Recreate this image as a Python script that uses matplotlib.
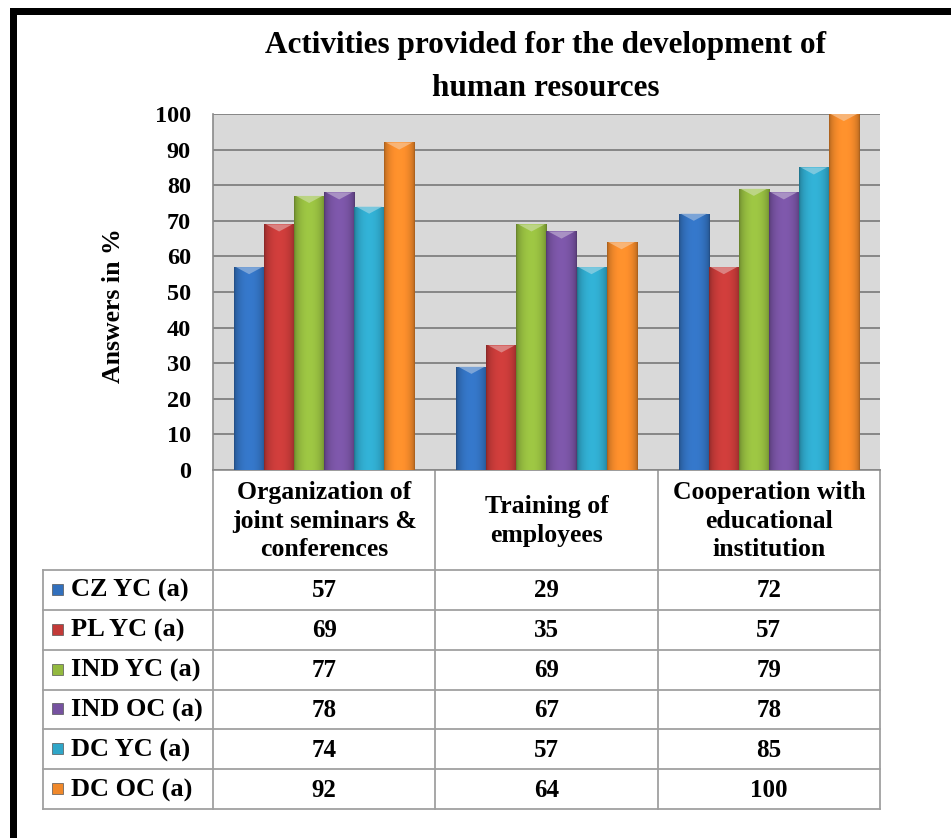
import numpy as np
import matplotlib
matplotlib.use("Agg")
import matplotlib.pyplot as plt
from matplotlib.patches import Polygon, Rectangle
from matplotlib.colors import to_rgb

plt.rcParams['font.family'] = ['Liberation Serif', 'DejaVu Serif']
plt.rcParams['font.weight'] = 'bold'

# chart data
categories = ['Organization of\njoint seminars &\nconferences',
              'Training of\nemployees',
              'Cooperation with\neducational\ninstitution']
series_names = ['CZ YC (a)', 'PL YC (a)', 'IND YC (a)', 'IND OC (a)', 'DC YC (a)', 'DC OC (a)']
cz_yc = [57, 29, 72]
pl_yc = [69, 35, 57]
ind_yc = [77, 69, 79]
ind_oc = [78, 67, 78]
dc_yc = [74, 57, 85]
dc_oc = [92, 64, 100]
series_values = [cz_yc, pl_yc, ind_yc, ind_oc, dc_yc, dc_oc]
colors = ['#3270bd', '#c33a38', '#93b93f', '#7652a0', '#2fa6c8', '#f0882a']
yticks = list(range(0, 101, 10))

W, H = 951, 838
fig = plt.figure(figsize=(W / 100, H / 100), dpi=100)

# pixel-space overlay for frame, title, axis label and data table
ov = fig.add_axes([0, 0, 1, 1], zorder=0)
ov.set_xlim(0, W)
ov.set_ylim(H, 0)
ov.axis('off')

# plot area in pixels
px0, px1, py0, py1 = 213, 880, 114, 470
ax = fig.add_axes([px0 / W, 1 - py1 / H, (px1 - px0) / W, (py1 - py0) / H], zorder=1)
ax.set_facecolor('#d9d9d9')
ax.set_yticks(yticks)
ax.set_yticklabels([str(t) for t in yticks], fontsize=17.5, fontweight='bold')
ax.set_xticks([])
ax.tick_params(axis='y', length=0, pad=16)
ax.yaxis.grid(True, color='#868686', linewidth=1.4)
ax.set_axisbelow(True)
for side in ['top', 'right']:
    ax.spines[side].set_visible(False)
for side in ['left', 'bottom']:
    ax.spines[side].set_color('#8a8a8a')
    ax.spines[side].set_linewidth(1.2)


def shade_image(color):
    # horizontal bevel shading: dark edges, bright centre
    base = np.array(to_rgb(color))
    t = np.linspace(0, 1, 64)
    f = 0.66 + 0.42 * np.sin(np.pi * t) ** 0.45
    img = np.clip(base[None, :] * f[:, None], 0, 1)
    return img[None, :, :]


n = len(series_values)
group_w = 0.81
bw = group_w / n
x = np.arange(len(categories))
for i, (vals, col) in enumerate(zip(series_values, colors)):
    offs = x - group_w / 2 + bw * (i + 0.5)
    bars = ax.bar(offs, vals, width=bw, color=col, edgecolor='none', zorder=2)
    for b in bars:
        bx, by = b.get_x(), b.get_y()
        w, h = b.get_width(), b.get_height()
        im = ax.imshow(shade_image(col), extent=(bx, bx + w, by, by + h),
                       aspect='auto', zorder=3, interpolation='bilinear')
        im.set_clip_path(b)
        # light chevron cap at the top of each bar
        cap = 2.0
        light = np.clip(np.array(to_rgb(col)) * 0.55 + 0.45, 0, 1)
        ax.add_patch(Polygon([(bx + w * 0.06, by + h), (bx + w * 0.94, by + h),
                              (bx + w * 0.5, by + h - cap)],
                             closed=True, facecolor=light, edgecolor='none', zorder=4, alpha=0.8))
ax.set_xlim(-0.5, len(categories) - 0.5)
ax.set_ylim(0, 100)

# outer frame (top and left edges)
ov.add_patch(Rectangle((10, 8), W, 7, facecolor='black', edgecolor='none'))
ov.add_patch(Rectangle((10, 8), 7, H, facecolor='black', edgecolor='none'))

# title and axis label
ov.text(546, 67, 'Activities provided for the development of\nhuman resources',
        ha='center', va='center', fontsize=22.5, fontweight='bold', linespacing=1.6)
ov.text(113, 306, 'Answers in %', rotation=90, ha='center', va='center',
        fontsize=18.5, fontweight='bold')

# data table under the plot
col_w = (px1 - px0) / len(categories)
tx0 = 43
head_bot = 570
row_h = (809 - head_bot) / n
grid_c = '#a0a0a0'
lw = 1.3
for k in range(len(categories) + 1):
    xx = px0 + k * col_w
    ov.plot([xx, xx], [py1, head_bot + n * row_h], color=grid_c, lw=lw)
ov.plot([tx0, tx0], [head_bot, head_bot + n * row_h], color=grid_c, lw=lw)
for r in range(n + 1):
    yy = head_bot + r * row_h
    ov.plot([tx0, px1], [yy, yy], color=grid_c, lw=lw)

for k, cat in enumerate(categories):
    ov.text(px0 + (k + 0.5) * col_w, (py1 + head_bot) / 2 + 1, cat, ha='center', va='center',
            fontsize=18.5, fontweight='bold', linespacing=1.32)

for r, (name, vals, col) in enumerate(zip(series_names, series_values, colors)):
    yc = head_bot + (r + 0.5) * row_h
    ov.add_patch(Rectangle((52, yc - 6), 11, 11, facecolor=col, edgecolor='#555555', lw=0.5))
    ov.text(71, yc + 1, name, ha='left', va='center', fontsize=19, fontweight='bold')
    for k, v in enumerate(vals):
        ov.text(px0 + (k + 0.5) * col_w, yc + 1, str(v), ha='center', va='center',
                fontsize=18, fontweight='bold')

fig.savefig('out.png', dpi=100, facecolor='white')
